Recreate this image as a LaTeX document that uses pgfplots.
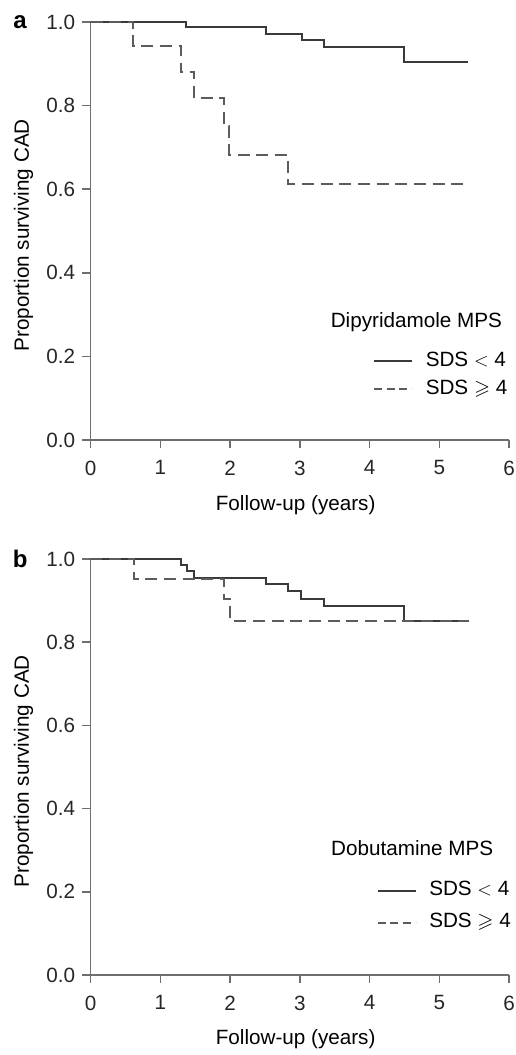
\documentclass[border=0pt]{standalone}
\usepackage{amssymb}
\usepackage{fontspec}
\setmainfont{Liberation Sans}
\usepackage{pgfplots}
\pgfplotsset{compat=1.18}

\definecolor{axgray}{HTML}{6E6E6E}
\definecolor{solidc}{HTML}{3A3A3A}
\definecolor{dashc}{HTML}{5C5C5C}

\newcommand{\txt}{\fontsize{15.5}{18}\selectfont}

\pgfplotsset{
  kmaxis/.style={
    scale only axis, width=314pt,
    xmin=0, xmax=6, ymin=0, ymax=1,
    clip=false,
    axis lines=left,
    axis line style={axgray, line width=1.1pt, -},
    tick style={axgray, line width=1.1pt},
    tick align=outside, major tick length=6pt,
    xtick={0,1,2,3,4,5,6},
    ytick={0,0.2,0.4,0.6,0.8,1},
    yticklabel style={/pgf/number format/fixed, /pgf/number format/fixed zerofill,
      /pgf/number format/precision=1, xshift=-2pt},
    /pgf/number format/assume math mode=true,
    ticklabel style={font=\txt, text=black!85},
    xticklabel style={yshift=-6pt},
    xlabel={Follow-up (years)},
    ylabel={Proportion surviving CAD},
    xlabel style={font=\txt, at={(axis description cs:0.49,-0.155)}, anchor=center},
    ylabel style={font=\txt, at={(axis description cs:-0.16,0.49)}, anchor=center},
    legend cell align=left,
    legend image code/.code={\draw[#1] (0pt,0pt) -- (28.5pt,0pt);},
    legend style={draw=none, fill=none, inner sep=0pt, outer sep=0pt,
      font=\txt, nodes={inner sep=0pt, text height=11pt, text depth=3pt},
      /tikz/every odd column/.append style={column sep=9.5pt}},
  },
  solidkm/.style={const plot, solidc, line width=1.5pt},
  dashkm/.style={const plot, dashc, line width=1.5pt, dash pattern=on 9pt off 5pt,
    legend image post style={dash pattern=on 6pt off 3.5pt}},
}

\begin{document}
\begin{tikzpicture}
\useasboundingbox (-67.875pt,-461.25pt) rectangle (319.125pt,330pt);

% a: dipyridamole
\begin{axis}[kmaxis, height=313.5pt,
  legend style={at={(axis cs:4.05,0.1555)}, anchor=west, row sep=7pt}]
\addplot[solidkm] coordinates {
  (0,1) (1.375,0.987) (2.52,0.972) (3.03,0.956) (3.34,0.939) (4.49,0.904) (5.41,0.904)};
\addplot[dashkm] coordinates {
  (0,1) (0.61,0.943) (1.29,0.880) (1.49,0.817) (1.92,0.750) (1.99,0.682) (2.83,0.613) (5.43,0.613)};
\legend{SDS $<$ 4, SDS $\geqslant$ 4}
\node[font=\txt, anchor=center] at (axis cs:4.67,0.282) {Dipyridamole MPS};
\node[font=\fontsize{18}{20}\selectfont\bfseries, anchor=center] at (axis description cs:-0.168,1) {a};
\end{axis}

% b: dobutamine
\begin{axis}[kmaxis, height=312pt, at={(0pt,-401.25pt)},
  legend style={at={(axis cs:4.10,0.1645)}, anchor=west, row sep=10pt}]
\addplot[solidkm] coordinates {
  (0,1) (1.30,0.986) (1.38,0.971) (1.49,0.954) (2.52,0.940) (2.83,0.923) (3.02,0.905) (3.35,0.886) (4.49,0.851) (5.29,0.851)};
\addplot[dashkm] coordinates {
  (0,1) (0.62,0.952) (1.91,0.904) (2.0,0.852) (5.43,0.852)};
\legend{SDS $<$ 4, SDS $\geqslant$ 4}
\node[font=\txt, anchor=center] at (axis cs:4.61,0.306) {Dobutamine MPS};
\node[font=\fontsize{18}{20}\selectfont\bfseries, anchor=center] at (axis description cs:-0.168,1) {b};
\end{axis}
\end{tikzpicture}
\end{document}
